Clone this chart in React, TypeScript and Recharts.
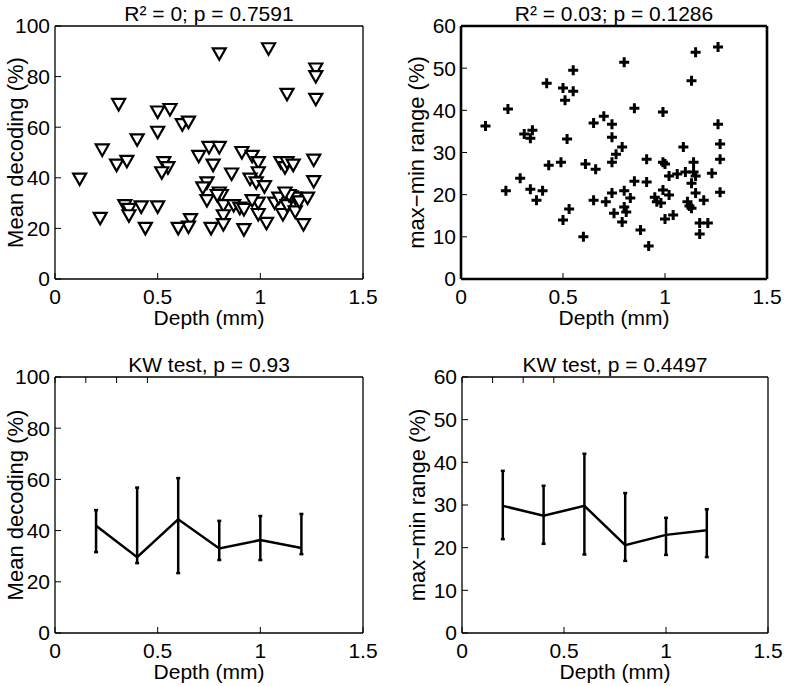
import React from 'react';
import {
  ScatterChart,
  Scatter,
  LineChart,
  Line,
  ErrorBar,
  XAxis,
  YAxis,
} from 'recharts';

// depth (mm) vs mean decoding (%) -- top left
const depthA = [
  0.8, 1.04, 1.27, 1.27, 1.13, 1.27, 0.31, 0.5, 0.56, 0.62, 0.65, 0.5, 0.4, 0.23, 0.75, 0.8,
  0.7, 0.91, 0.96, 0.99, 0.77, 1.1, 1.12, 1.13, 1.16, 1.26, 0.3, 0.35, 0.53, 0.55, 0.52, 0.12,
  0.86, 0.99, 0.95, 0.98, 1.02, 1.26, 0.74, 0.72, 0.8, 0.81, 0.74, 0.82, 0.87, 0.9, 0.92, 0.82,
  0.82, 0.76, 0.66, 0.65, 0.6, 0.44, 0.92, 1.03, 0.99, 0.99, 1.07, 1.09, 1.11, 1.13, 1.15, 1.17,
  1.17, 1.19, 1.23, 1.21, 0.34, 0.36, 0.36, 0.42, 0.5, 0.22, 0.96, 0.79, 1.14, 1.12,
];
const decodingA = [
  89, 91, 83, 80, 73, 71, 69, 66, 67, 61, 62, 58, 55, 51, 52, 52,
  48.5, 50, 48.5, 46, 45, 46, 44, 46, 45, 47, 45, 46.5, 46, 44, 42, 39.5,
  41.5, 42, 39.5, 38, 36.5, 38.5, 38, 36, 34, 33, 31, 29, 29, 28, 27.5, 25,
  21.5, 20, 23.5, 20.5, 20, 20, 19.5, 22, 25.5, 30, 30, 32, 25.5, 29, 32.5, 32,
  26.5, 30.5, 32, 21.5, 29, 27.5, 25, 28.5, 28.5, 24, 31, 33, 33, 34,
];

// depth (mm) vs max-min range (%) -- top right
const depthB = [
  1.26, 1.15, 0.8, 0.55, 0.42, 0.5, 0.55, 0.51, 1.13, 0.23, 0.85, 0.99, 0.12, 0.65, 0.7, 0.74,
  0.74, 0.31, 0.35, 0.34, 0.52, 1.26, 1.27, 1.09, 0.79, 0.76, 0.74, 0.91, 0.99, 1.0, 1.27, 1.14,
  0.61, 0.66, 0.43, 0.49, 0.29, 0.22, 0.34, 0.4, 0.37, 0.85, 0.91, 1.02, 1.06, 1.1, 1.14, 1.15,
  1.13, 1.23, 0.74, 0.8, 0.83, 0.71, 0.65, 0.99, 0.95, 0.96, 0.98, 1.02, 1.15, 1.11, 1.12, 1.13,
  1.19, 1.27, 0.8, 0.81, 0.75, 0.79, 0.53, 0.5, 1.04, 1.0, 1.17, 1.21, 1.17, 0.88, 0.92, 0.6,
];
const rangeB = [
  55, 53.8, 51.4, 49.5, 46.4, 45.3, 44.5, 42.4, 47, 40.3, 40.5, 39.6, 36.3, 37, 38.6, 36.7,
  33.6, 34.4, 35.3, 33.4, 33.2, 36.7, 32, 31.3, 31.3, 29.6, 27.7, 28.4, 27.7, 27.3, 28.4, 27.7,
  27.3, 26, 27, 27.7, 23.9, 20.9, 21.3, 20.9, 18.7, 23.2, 23, 24.4, 24.9, 25.4, 25.4, 24.4,
  22.7, 25.1, 20.4, 20.9, 19.2, 18.3, 18.7, 21.1, 19.4, 18.3, 18, 19.9, 20.4, 18.3, 17.3, 16.8,
  18.7, 20.6, 17.1, 15.9, 15.6, 13.5, 16.6, 14, 15.2, 14.2, 13.3, 13.3, 10.7, 11.6, 7.8, 10,
];

// binned depths -- bottom row
const depthBins = [0.2, 0.4, 0.6, 0.8, 1.0, 1.2];
const meanC = [41.9, 29.6, 44.4, 33, 36.3, 33.2];
const hiC = [48, 56.8, 60.5, 43.8, 45.7, 46.5];
const loC = [31.6, 27.3, 23.4, 28.5, 28.5, 30.8];
const meanD = [29.8, 27.5, 29.8, 20.6, 23, 24.1];
const hiD = [38, 34.5, 42, 32.8, 27, 29];
const loD = [22, 20.9, 18.4, 16.9, 18.3, 17.8];

const xTicks = [0, 0.5, 1, 1.5];
const ticksDecoding = [0, 20, 40, 60, 80, 100];
const ticksRange = [0, 10, 20, 30, 40, 50, 60];

const ptsA = depthA.map((x, i) => ({ x, y: decodingA[i] }));
const ptsB = depthB.map((x, i) => ({ x, y: rangeB[i] }));
const rowsC = depthBins.map((x, i) => ({ x, y: meanC[i], err: [meanC[i] - loC[i], hiC[i] - meanC[i]] }));
const rowsD = depthBins.map((x, i) => ({ x, y: meanD[i], err: [meanD[i] - loD[i], hiD[i] - meanD[i]] }));

const FONT = 21;

const TriangleDown = (props: any) => {
  const { cx, cy } = props;
  if (cx == null || cy == null) return null;
  return (
    <path
      d={`M${cx - 6.5},${cy - 5.5} L${cx + 6.5},${cy - 5.5} L${cx},${cy + 6} Z`}
      fill="#fff"
      stroke="#000"
      strokeWidth={2.2}
    />
  );
};

const Plus = (props: any) => {
  const { cx, cy } = props;
  if (cx == null || cy == null) return null;
  return (
    <path d={`M${cx - 5},${cy} H${cx + 5} M${cx},${cy - 5} V${cy + 5}`} stroke="#000" strokeWidth={3} />
  );
};

interface PanelCfg {
  title: string;
  yLabel: string;
  yLabelX: number;
  yMax: number;
  yTicks: number[];
  frame: number;
  // plot box inside the panel's svg
  plot: { top: number; right: number; bottom: number; left: number };
  height: number;
}

// axes take 1px each (recharts skips drawing a 0-sized axis), so margins are 1px smaller
const marginOf = (p: PanelCfg) => ({
  top: p.plot.top - 1,
  right: p.plot.right - 1,
  bottom: p.plot.bottom - 1,
  left: p.plot.left - 1,
});

const axes = (p: PanelCfg) => {
  const line = { stroke: '#000', strokeWidth: p.frame };
  const tickLine = { stroke: '#000', strokeWidth: 1 };
  const cy = p.plot.top + (p.height - p.plot.top - p.plot.bottom) / 2;
  return [
    <XAxis
      key="xb"
      xAxisId="b"
      type="number"
      dataKey="x"
      domain={[0, 1.5]}
      ticks={xTicks}
      height={1}
      tickSize={-6}
      tickMargin={16}
      axisLine={line}
      tickLine={tickLine}
      tick={{ fill: '#000', fontSize: FONT }}
      label={{ value: 'Depth (mm)', position: 'bottom', offset: 30, fill: '#000', fontSize: FONT }}
    />,
    <XAxis
      key="xt"
      xAxisId="t"
      orientation="top"
      type="number"
      domain={[0, 1.5]}
      ticks={xTicks}
      height={1}
      tickSize={-6}
      tickFormatter={() => ''}
      axisLine={line}
      tickLine={tickLine}
      label={{ value: p.title, position: 'top', offset: 4, fill: '#000', fontSize: FONT }}
    />,
    <YAxis
      key="yl"
      yAxisId="l"
      type="number"
      dataKey="y"
      domain={[0, p.yMax]}
      ticks={p.yTicks}
      width={1}
      tickSize={-6}
      tickMargin={11}
      axisLine={line}
      tickLine={tickLine}
      tick={{ fill: '#000', fontSize: FONT }}
      label={{
        content: () => (
          <text
            x={p.yLabelX}
            y={cy}
            transform={`rotate(-90 ${p.yLabelX} ${cy})`}
            textAnchor="middle"
            dominantBaseline="central"
            fontSize={22}
            fill="#000"
          >
            {p.yLabel}
          </text>
        ),
      }}
    />,
    <YAxis
      key="yr"
      yAxisId="r"
      orientation="right"
      type="number"
      domain={[0, p.yMax]}
      ticks={p.yTicks}
      width={1}
      tickSize={-6}
      tickFormatter={() => ''}
      axisLine={line}
      tickLine={tickLine}
    />,
  ];
};

const W_LEFT = 393;
const W_RIGHT = 394;
const H = 343;

const cfgA: PanelCfg = {
  title: 'R² = 0; p = 0.7591',
  yLabel: 'Mean decoding (%)',
  yLabelX: 15,
  yMax: 100,
  yTicks: ticksDecoding,
  frame: 1.3,
  plot: { top: 26, right: 30, bottom: 64, left: 55 },
  height: H,
};
const cfgB: PanelCfg = {
  title: 'R² = 0.03; p = 0.1286',
  yLabel: 'max−min range (%)',
  yLabelX: 23,
  yMax: 60,
  yTicks: ticksRange,
  frame: 2.6,
  plot: { top: 26, right: 20, bottom: 64, left: 68 },
  height: H,
};
const cfgC: PanelCfg = {
  title: 'KW test, p = 0.93',
  yLabel: 'Mean decoding (%)',
  yLabelX: 15,
  yMax: 100,
  yTicks: ticksDecoding,
  frame: 1.3,
  plot: { top: 34, right: 30, bottom: 53, left: 55 },
  height: H,
};
const cfgD: PanelCfg = {
  title: 'KW test, p = 0.4497',
  yLabel: 'max−min range (%)',
  yLabelX: 24,
  yMax: 60,
  yTicks: ticksRange,
  frame: 1.3,
  plot: { top: 34, right: 19, bottom: 53, left: 69 },
  height: H,
};

const box = (left: number, top: number): React.CSSProperties => ({ position: 'absolute', left, top });

export default function App() {
  return (
    <div
      style={{
        position: 'absolute',
        left: 0,
        top: 0,
        width: 787,
        height: 686,
        background: '#fff',
        fontFamily: '"Liberation Sans", Arial, sans-serif',
      }}
    >
      <div style={box(0, 0)}>
        <ScatterChart width={W_LEFT} height={H} margin={marginOf(cfgA)}>
          {axes(cfgA)}
          <Scatter data={ptsA} xAxisId="b" yAxisId="l" shape={TriangleDown} isAnimationActive={false} />
        </ScatterChart>
      </div>
      <div style={box(393, 0)}>
        <ScatterChart width={W_RIGHT} height={H} margin={marginOf(cfgB)}>
          {axes(cfgB)}
          <Scatter data={ptsB} xAxisId="b" yAxisId="l" shape={Plus} isAnimationActive={false} />
        </ScatterChart>
      </div>
      <div style={box(0, 343)}>
        <LineChart width={W_LEFT} height={H} data={rowsC} margin={marginOf(cfgC)}>
          {axes(cfgC)}
          <Line
            xAxisId="b"
            yAxisId="l"
            dataKey="y"
            type="linear"
            stroke="#000"
            strokeWidth={2.5}
            dot={false}
            isAnimationActive={false}
          >
            <ErrorBar dataKey="err" direction="y" width={2} stroke="#000" strokeWidth={2.5} isAnimationActive={false} />
          </Line>
        </LineChart>
      </div>
      <div style={box(393, 343)}>
        <LineChart width={W_RIGHT} height={H} data={rowsD} margin={marginOf(cfgD)}>
          {axes(cfgD)}
          <Line
            xAxisId="b"
            yAxisId="l"
            dataKey="y"
            type="linear"
            stroke="#000"
            strokeWidth={2.5}
            dot={false}
            isAnimationActive={false}
          >
            <ErrorBar dataKey="err" direction="y" width={2} stroke="#000" strokeWidth={2.5} isAnimationActive={false} />
          </Line>
        </LineChart>
      </div>
    </div>
  );
}
